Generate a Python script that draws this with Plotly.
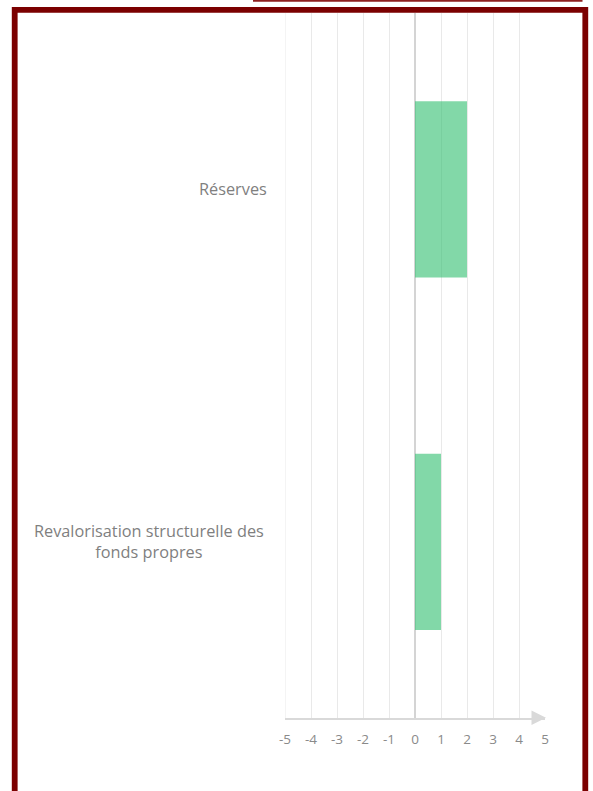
import plotly.graph_objects as go

# Data
categories = ["Réserves", "Revalorisation structurelle des<br>fonds propres"]
values = [2, 1]
tick_values = [-5, -4, -3, -2, -1, 0, 1, 2, 3, 4, 5]
tick_labels = ["-5", "-4", "-3", "-2", "-1", "0", "1", "2", "3", "4", "5"]

# Page geometry (pixels)
W, H = 593, 791
ML, MR, MT, MB = 285, 48, 13, 73
PLOT_W = W - ML - MR
PLOT_H = H - MT - MB


def px_x(px):
    return (px - ML) / PLOT_W


def px_y(py):
    return (H - MB - py) / PLOT_H


BAR_COLOR = "rgba(46,190,110,0.6)"
TEXT_GRAY = "#7f7f7f"
GRID = "#e9e9e9"
FONT = "Open Sans, Lato, sans-serif"

fig = go.Figure()
fig.add_trace(
    go.Bar(
        x=values,
        y=categories,
        orientation="h",
        marker=dict(color=BAR_COLOR, line=dict(width=0)),
        hoverinfo="x+y",
    )
)

fig.update_layout(
    width=W,
    height=H,
    margin=dict(l=ML, r=MR, t=MT, b=MB, pad=0),
    paper_bgcolor="white",
    plot_bgcolor="white",
    bargap=0.5,
    showlegend=False,
    font=dict(family=FONT, color=TEXT_GRAY),
    xaxis=dict(
        range=[-5, 5],
        tickvals=tick_values,
        ticktext=tick_labels,
        showgrid=True,
        gridcolor=GRID,
        gridwidth=1,
        zeroline=True,
        zerolinecolor="#d4d4d4",
        zerolinewidth=1.6,
        showline=True,
        linecolor="#d9d9d9",
        linewidth=2,
        ticks="outside",
        ticklen=8,
        tickcolor="rgba(0,0,0,0)",
        tickfont=dict(family=FONT, size=13.5, color="#8a8a8a"),
        fixedrange=True,
    ),
    yaxis=dict(
        categoryorder="array",
        categoryarray=categories,
        autorange="reversed",
        showticklabels=False,
        showgrid=False,
        zeroline=False,
        showline=False,
        fixedrange=True,
    ),
)

# Grid line on the left edge of the plot (x = -5)
fig.add_shape(
    type="line",
    xref="x",
    yref="paper",
    x0=tick_values[0],
    x1=tick_values[0],
    y0=0,
    y1=1,
    line=dict(color=GRID, width=1),
    layer="below",
)

# Category labels, centred multi-line text to the left of the plot
label_shift = {categories[0]: -16, categories[1]: -19}
for cat in categories:
    fig.add_annotation(
        x=0,
        xref="paper",
        y=cat,
        yref="y",
        text=cat,
        showarrow=False,
        xanchor="right",
        yanchor="middle",
        align="center",
        xshift=label_shift[cat],
        font=dict(family=FONT, size=16.3, color=TEXT_GRAY),
    )

# Arrow head at the end of the x axis line
ax_y = px_y(717.7)
fig.add_shape(
    type="path",
    xref="paper",
    yref="paper",
    path=(
        f"M {px_x(531.5)} {px_y(710.6)} "
        f"L {px_x(546)} {ax_y} "
        f"L {px_x(531.5)} {px_y(725)} Z"
    ),
    fillcolor="#d9d9d9",
    line=dict(width=0),
    layer="above",
)

# Frame around the chart
fig.add_shape(
    type="rect",
    xref="paper",
    yref="paper",
    x0=px_x(14.7),
    x1=px_x(585.3),
    y0=px_y(9.8),
    y1=px_y(805),
    line=dict(color="#7b0000", width=5.8),
    fillcolor="rgba(0,0,0,0)",
    layer="above",
)

# Thin rule along the top edge
fig.add_shape(
    type="line",
    xref="paper",
    yref="paper",
    x0=px_x(253),
    x1=px_x(582.5),
    y0=px_y(0.8),
    y1=px_y(0.8),
    line=dict(color="#8e1f1f", width=1.8),
    layer="above",
)

fig.write_html("out.html")
